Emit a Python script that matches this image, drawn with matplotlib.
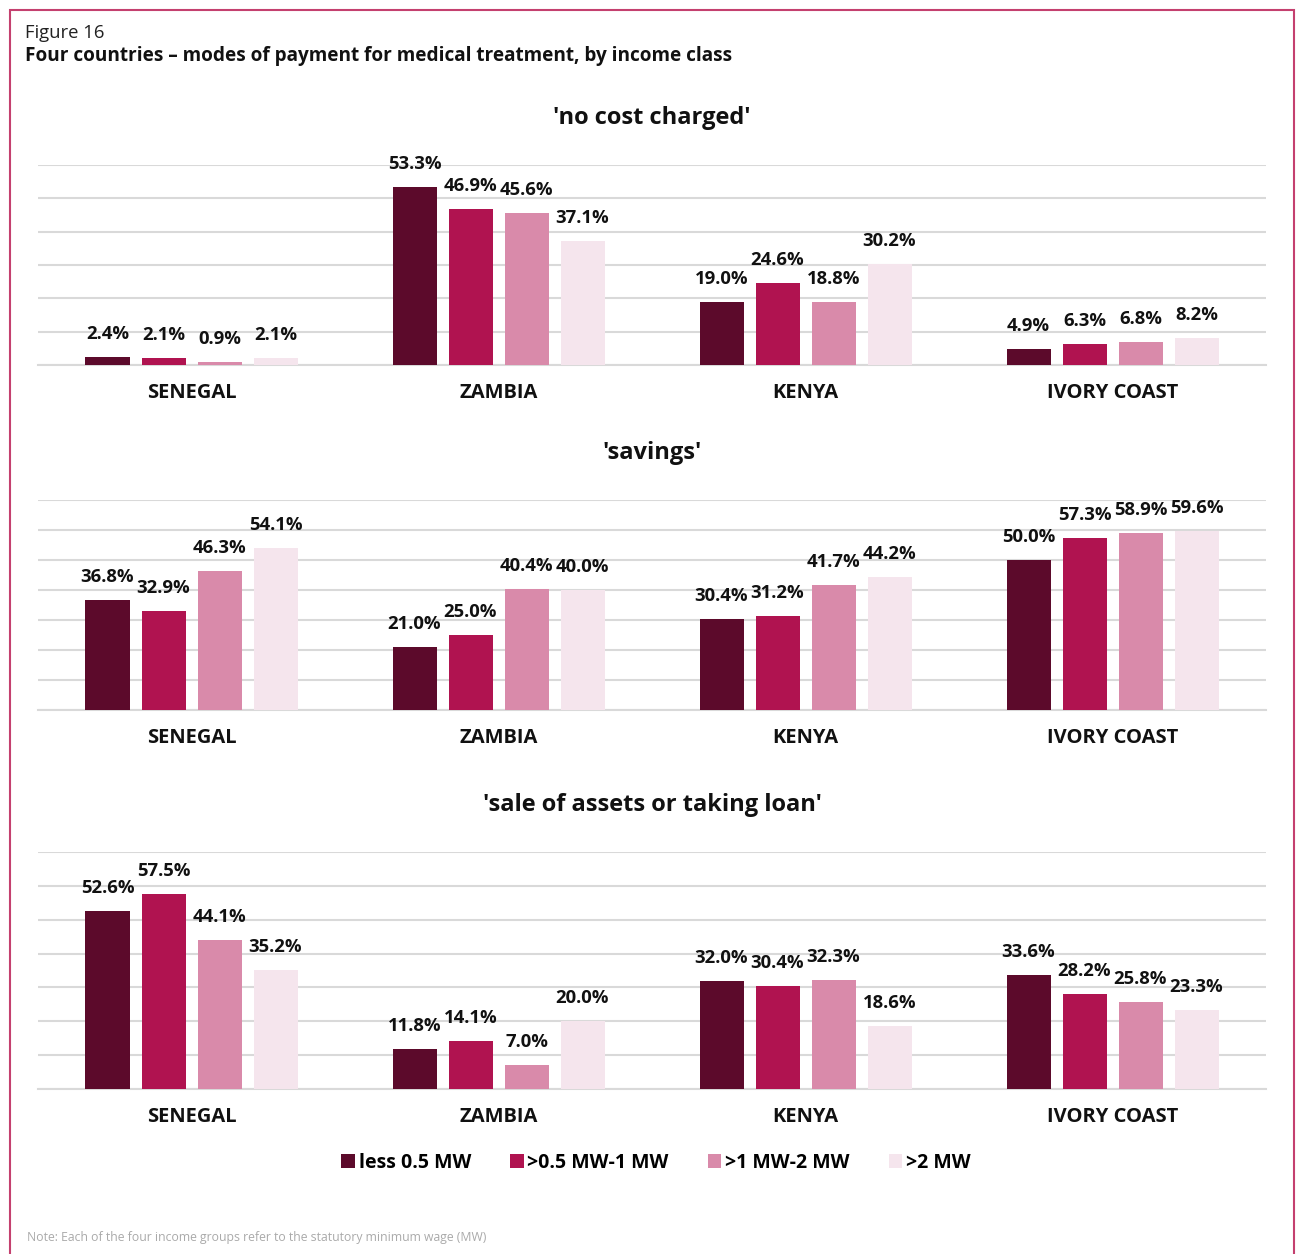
import matplotlib
matplotlib.use("Agg")
import matplotlib.pyplot as plt
from matplotlib.patches import Rectangle, Patch
import numpy as np

plt.rcParams['font.family'] = ['Open Sans', 'DejaVu Sans']

countries = ["SENEGAL", "ZAMBIA", "KENYA", "IVORY COAST"]
series = ["less 0.5 MW", ">0.5 MW-1 MW", ">1 MW-2 MW", ">2 MW"]
colors = ["#5c0a2b", "#b01350", "#d98aaa", "#f5e5ed"]

no_cost = [
    [2.4, 53.3, 19.0, 4.9],
    [2.1, 46.9, 24.6, 6.3],
    [0.9, 45.6, 18.8, 6.8],
    [2.1, 37.1, 30.2, 8.2],
]
savings = [
    [36.8, 21.0, 30.4, 50.0],
    [32.9, 25.0, 31.2, 57.3],
    [46.3, 40.4, 41.7, 58.9],
    [54.1, 40.0, 44.2, 59.6],
]
sale_loan = [
    [52.6, 11.8, 32.0, 33.6],
    [57.5, 14.1, 30.4, 28.2],
    [44.1, 7.0, 32.3, 25.8],
    [35.2, 20.0, 18.6, 23.3],
]
panel_titles = ["'no cost charged'", "'savings'", "'sale of assets or taking loan'"]
panel_data = [no_cost, savings, sale_loan]
panel_ymax = [60, 70, 70]

W, H = 1296, 1254
fig = plt.figure(figsize=(W / 100, H / 100), dpi=100)

# pixel boxes: (top, bottom)
boxes = [(165, 365), (500, 710), (852, 1089)]
left_px, right_px = 38, 1266

slot = 56 / 307
bw = 44 / 307
x = np.arange(len(countries))

for (top, bot), title, data, ymax in zip(boxes, panel_titles, panel_data, panel_ymax):
    ax = fig.add_axes([left_px / W, 1 - bot / H, (right_px - left_px) / W, (bot - top) / H])
    for i, (vals, col) in enumerate(zip(data, colors)):
        xs = x + (i - 1.5) * slot
        ax.bar(xs, vals, width=bw, color=col, zorder=3)
        for xi, v in zip(xs, vals):
            ax.annotate(f"{v:.1f}%", (xi, v), xytext=(0, 16.5), textcoords="offset points",
                        ha="center", va="center", fontsize=13.3, fontweight="bold",
                        color="#111111", zorder=4, annotation_clip=False)
    ax.set_xlim(-0.5, len(countries) - 0.5)
    ax.set_ylim(0, ymax)
    ax.set_yticks(np.arange(0, ymax + 1, 10))
    ax.yaxis.grid(True, color="#d9d9d9", linewidth=1.5, zorder=0)
    ax.set_axisbelow(True)
    ax.tick_params(axis="y", left=False, labelleft=False)
    ax.tick_params(axis="x", length=0, pad=13)
    ax.set_xticks(x)
    ax.set_xticklabels(countries, fontsize=14.5, fontweight="bold", color="#111111")
    for s in ["top", "left", "right"]:
        ax.spines[s].set_visible(False)
    ax.spines["bottom"].set_color("#d9d9d9")
    ax.spines["bottom"].set_linewidth(1.5)
    fig.text((left_px + right_px) / 2 / W, 1 - (top - 47) / H, title, ha="center", va="center",
             fontsize=17, fontweight="bold", color="#111111")

# header
fig.text(25 / W, 1 - 33 / H, "Figure 16", ha="left", va="center", fontsize=13.3, color="#222222")
fig.text(25 / W, 1 - 56 / H, "Four countries \u2013 modes of payment for medical treatment, by income class",
         ha="left", va="center", fontsize=13.7, fontweight="bold", color="#111111")

# legend
handles = [Patch(facecolor=c, edgecolor="none") for c in colors]
fig.legend(handles, series, loc="center", bbox_to_anchor=(656 / W, 1 - 1163 / H), ncol=4,
           frameon=False, handlelength=0.7, handleheight=0.7, handletextpad=0.2,
           columnspacing=2.0, prop={"size": 14, "weight": "bold"})

# note
fig.text(27 / W, 1 - 1238 / H, "Note: Each of the four income groups refer to the statutory minimum wage (MW)",
         ha="left", va="center", fontsize=8.8, color="#aaaaaa")

# border
fig.add_artist(Rectangle((10 / W, -0.05), (1294 - 10) / W, (1 - 10 / H) + 0.05,
                         transform=fig.transFigure, fill=False, edgecolor="#c4406f",
                         linewidth=1.5, clip_on=False))

fig.savefig("out.png", dpi=100, facecolor="white")
